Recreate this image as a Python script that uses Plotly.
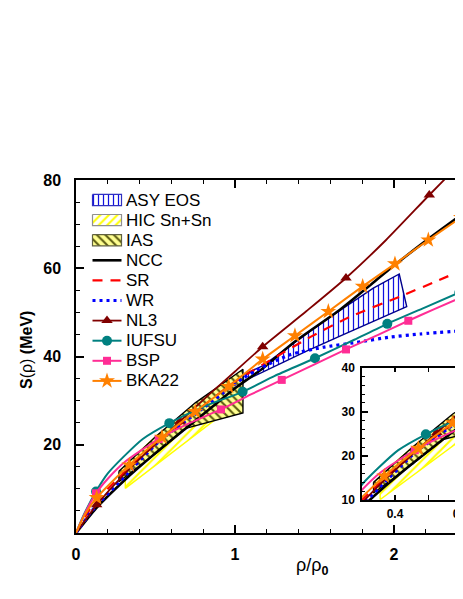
import plotly.graph_objects as go

# ---------------- data ----------------
# constraint regions (polygons, rho/rho0 vs S in MeV)
asy_x = [1.03, 1.174, 1.4, 1.587, 1.87, 2.033, 2.08, 1.87, 1.66, 1.45, 1.24, 1.1, 1.03]
asy_y = [35.5, 37.9, 43.8, 48.7, 55.5, 58.7, 51.3, 48.0, 44.6, 41.2, 37.6, 35.3, 34.0]

hic_x = [0.31, 0.31, 0.4, 0.5, 0.6, 0.7, 0.8, 0.88, 0.88, 0.7, 0.5, 0.31]
hic_y = [10.1, 14.5, 18.5, 21.8, 24.6, 26.6, 27.6, 27.4, 25.8, 20.8, 15.3, 10.1]

ias_x = [0.27, 0.5, 0.75, 1.05, 1.05, 0.69, 0.5, 0.27, 0.27]
ias_y = [14.0, 21.8, 29.5, 37.1, 27.2, 23.7, 18.0, 11.6, 14.0]

# model curves
ncc_x = [0, 0.126, 0.3, 0.5, 0.69, 0.85, 1.0, 1.174, 1.377, 1.66, 2.0, 2.2, 2.45]
ncc_y = [0, 5.6, 11.8, 18.1, 23.7, 28.4, 32.8, 37.3, 43.4, 50.6, 60.6, 66.2, 72.8]

sr_x = [0, 0.084, 0.2, 0.4, 0.6, 0.8, 1.0, 1.262, 1.478, 1.723, 2.038, 2.25, 2.45]
sr_y = [0, 5.2, 10.0, 17.0, 23.0, 28.8, 34.3, 40.0, 44.5, 49.0, 53.6, 56.8, 59.9]

wr_x = [0, 0.1, 0.3, 0.524, 0.8, 1.048, 1.157, 1.346, 1.555, 1.765, 1.975, 2.164, 2.45]
wr_y = [0, 5.0, 12.6, 20.8, 28.3, 35.0, 37.3, 40.4, 42.1, 43.2, 44.4, 45.1, 45.9]

nl3_x = [0, 0.13, 0.3, 0.5, 0.654, 0.85, 1.0, 1.174, 1.45, 1.698, 1.95, 2.222, 2.45]
nl3_y = [0, 6.4, 13.2, 20.2, 25.3, 31.8, 36.6, 42.2, 50.3, 57.8, 66.4, 76.6, 85.0]
nl3_mx = [0.13, 0.654, 1.174, 1.698, 2.222]
nl3_my = [6.4, 25.3, 42.2, 57.8, 76.6]

iufsu_x = [0, 0.05, 0.126, 0.2, 0.3, 0.42, 0.587, 0.8, 1.048, 1.25, 1.503, 1.75, 1.958, 2.2, 2.45]
iufsu_y = [0, 4.2, 9.4, 13.5, 17.3, 21.3, 24.9, 28.6, 32.0, 35.6, 39.6, 43.8, 47.4, 51.2, 55.1]
iufsu_mx = [0.126, 0.587, 1.048, 1.503, 1.958, 2.411]
iufsu_my = [9.4, 24.9, 32.0, 39.6, 47.4, 54.5]

bsp_x = [0, 0.05, 0.126, 0.2, 0.314, 0.52, 0.72, 0.912, 1.1, 1.294, 1.5, 1.698, 1.9, 2.09, 2.25, 2.45]
bsp_y = [0, 4.0, 9.0, 12.3, 16.3, 21.3, 25.0, 28.0, 31.4, 34.7, 38.2, 41.6, 44.9, 48.1, 50.7, 53.8]
bsp_mx = [0.126, 0.52, 0.912, 1.294, 1.698, 2.09]
bsp_my = [9.0, 21.3, 28.0, 34.7, 41.6, 48.1]

bka_x = [0, 0.05, 0.13, 0.335, 0.541, 0.75, 0.96, 1.174, 1.377, 1.587, 1.803, 2.006, 2.216, 2.421, 2.45]
bka_y = [0, 3.8, 8.0, 15.4, 21.7, 27.5, 33.2, 39.4, 44.7, 50.2, 55.9, 61.0, 66.4, 71.5, 72.2]
bka_mx = [0.13, 0.335, 0.541, 0.75, 0.96, 1.174, 1.377, 1.587, 1.803, 2.006, 2.216, 2.421]
bka_my = [8.0, 15.4, 21.7, 27.5, 33.2, 39.4, 44.7, 50.2, 55.9, 61.0, 66.4, 71.5]

legend_names = ["ASY EOS", "HIC Sn+Sn", "IAS", "NCC", "SR", "WR", "NL3", "IUFSU", "BSP", "BKA22"]

x_ticks = [0, 1, 2]
y_ticks = [20, 40, 60, 80]
inset_x_ticks = [0.4, 0.8]
inset_y_ticks = [10, 20, 30, 40]

# ---------------- layout geometry ----------------
FONT = "Liberation Sans, Arial, Helvetica, sans-serif"
OFF = 8                      # default page body margin
W, H = 463 - OFF, 599 - OFF
ML, MR, MT, MB = 68, 0, 172, 66
PW, PH = W - ML - MR, H - MT - MB


def px_x(px):  # screen pixel -> paper x
    return (px - OFF - ML) / PW


def px_y(py):  # screen pixel -> paper y
    return (H - MB - (py - OFF)) / PH


region_styles = {
    "ASY EOS": dict(line="#00008B", pat=dict(shape="|", fgcolor="#1010E0", bgcolor="rgba(255,255,255,0)",
                                             size=5, solidity=0.25, fillmode="replace"), leg_line="#3030C0"),
    "HIC Sn+Sn": dict(line="#FFFF00", pat=dict(shape="/", fgcolor="#FFFF00", bgcolor="rgba(255,255,255,0)",
                                               size=6, solidity=0.35, fillmode="replace"), leg_line="#909090"),
    "IAS": dict(line="#000000", pat=dict(shape="\\", fgcolor="#5A5A10", bgcolor="#FFFF90",
                                         size=6, solidity=0.35, fillmode="replace"), leg_line="#606040"),
}
curve_styles = {
    "NCC": dict(color="#000000", width=2.6, dash="solid"),
    "SR": dict(color="#FF0000", width=2.2, dash="10px,8px"),
    "WR": dict(color="#0000FF", width=3.2, dash="3px,4px"),
    "NL3": dict(color="#800000", width=1.8, dash="solid", symbol="triangle-up", size=10),
    "IUFSU": dict(color="#008080", width=2.0, dash="solid", symbol="circle", size=10),
    "BSP": dict(color="#FF2D95", width=2.0, dash="solid", symbol="square", size=8),
    "BKA22": dict(color="#FF8000", width=2.0, dash="solid", symbol="star", size=12),
}

regions = {"ASY EOS": (asy_x, asy_y), "HIC Sn+Sn": (hic_x, hic_y), "IAS": (ias_x, ias_y)}
curves = {
    "NCC": (ncc_x, ncc_y, None, None),
    "SR": (sr_x, sr_y, None, None),
    "WR": (wr_x, wr_y, None, None),
    "NL3": (nl3_x, nl3_y, nl3_mx, nl3_my),
    "IUFSU": (iufsu_x, iufsu_y, iufsu_mx, iufsu_my),
    "BSP": (bsp_x, bsp_y, bsp_mx, bsp_my),
    "BKA22": (bka_x, bka_y, bka_mx, bka_my),
}

fig = go.Figure()


def draw_all(xa, ya, with_asy=True):
    for name, (rx, ry) in regions.items():
        if name == "ASY EOS" and not with_asy:
            continue
        st = region_styles[name]
        fig.add_trace(go.Scatter(x=rx, y=ry, mode="lines", fill="toself", fillpattern=st["pat"],
                                 fillcolor="rgba(0,0,0,0)", line=dict(color=st["line"], width=1.4),
                                 xaxis=xa, yaxis=ya, showlegend=False, hoverinfo="skip"))
    for name, (cx, cy, mx, my) in curves.items():
        st = curve_styles[name]
        fig.add_trace(go.Scatter(x=cx, y=cy, mode="lines",
                                 line=dict(color=st["color"], width=st["width"], dash=st["dash"],
                                           shape="spline", smoothing=0.6),
                                 xaxis=xa, yaxis=ya, showlegend=False, hoverinfo="skip"))
        if mx is not None:
            fig.add_trace(go.Scatter(x=mx, y=my, mode="markers",
                                     marker=dict(symbol=st["symbol"], size=st["size"], color=st["color"],
                                                 line=dict(width=0)),
                                     xaxis=xa, yaxis=ya, showlegend=False, hoverinfo="skip"))


draw_all("x", "y")
draw_all("x2", "y2", with_asy=False)

# ---------------- manual legend (overlay axes in pixel units of the plot area) ----------------
row0, step = 20.0, 20.1
sx0, sx1 = 16.5, 45.5
half = 5.6
annotations = []
for i, name in enumerate(legend_names):
    yc = row0 + step * i
    if name in region_styles:
        st = region_styles[name]
        fig.add_trace(go.Scatter(x=[sx0, sx1, sx1, sx0, sx0], y=[yc - half, yc - half, yc + half, yc + half, yc - half],
                                 mode="lines", fill="toself", fillpattern=st["pat"], fillcolor="rgba(0,0,0,0)",
                                 line=dict(color=st["leg_line"], width=1.2),
                                 xaxis="x3", yaxis="y3", showlegend=False, hoverinfo="skip"))
    else:
        st = curve_styles[name]
        fig.add_trace(go.Scatter(x=[sx0, sx1], y=[yc, yc], mode="lines",
                                 line=dict(color=st["color"], width=st["width"], dash=st["dash"]),
                                 xaxis="x3", yaxis="y3", showlegend=False, hoverinfo="skip"))
        if "symbol" in st:
            fig.add_trace(go.Scatter(x=[(sx0 + sx1) / 2], y=[yc], mode="markers",
                                     marker=dict(symbol=st["symbol"], size=st["size"], color=st["color"],
                                                 line=dict(width=0)),
                                     xaxis="x3", yaxis="y3", showlegend=False, hoverinfo="skip"))
    annotations.append(dict(x=sx1 + 2, y=yc, xref="x3", yref="y3", text=name, showarrow=False,
                            xanchor="left", yanchor="middle", font=dict(family=FONT, size=17, color="black")))

# axis titles
annotations.append(dict(x=px_x(26), y=px_y(350), xref="paper", yref="paper",
                        text="<b>S</b>(ρ) <b>(MeV)</b>", textangle=-90, showarrow=False,
                        xanchor="center", yanchor="middle", font=dict(family=FONT, size=16, color="black")))
annotations.append(dict(x=px_x(312), y=px_y(566), xref="paper", yref="paper",
                        text="ρ/ρ<sub><b>0</b></sub>", showarrow=False,
                        xanchor="center", yanchor="middle", font=dict(family=FONT, size=18, color="black")))

axis_common = dict(showline=True, linecolor="black", linewidth=1.5, showgrid=False, zeroline=False,
                   ticks="inside", tickcolor="black", tickwidth=1.5, automargin=False)

fig.update_layout(
    width=W, height=H, margin=dict(l=ML, r=MR, t=MT, b=MB, pad=0, autoexpand=False),
    paper_bgcolor="white", plot_bgcolor="white", showlegend=False,
    font=dict(family=FONT, color="black"),
    annotations=annotations,
    xaxis=dict(axis_common, range=[0, PW / 159.0], domain=[0, 1], anchor="y", mirror="ticks",
               tickvals=x_ticks, ticktext=[f"<b>{v}</b>" for v in x_ticks], ticklen=8,
               tickfont=dict(size=16, family=FONT), ticklabelstandoff=6,
               minor=dict(ticks="inside", dtick=0.2, tick0=0, ticklen=4, tickwidth=1.2, tickcolor="black")),
    yaxis=dict(axis_common, range=[0, 80], domain=[0, 1], anchor="x", mirror=False,
               tickvals=y_ticks, ticktext=[f"<b>{v}</b>" for v in y_ticks], ticklen=8,
               tickfont=dict(size=16, family=FONT), ticklabelstandoff=10,
               minor=dict(ticks="inside", dtick=5, tick0=0, ticklen=4, tickwidth=1.2, tickcolor="black")),
    xaxis2=dict(axis_common, range=[0.2, 0.2 + (463 - 362) / 165.0], domain=[px_x(362), 1], anchor="y2",
                mirror="ticks", tickvals=inset_x_ticks, ticktext=[f"<b>{v}</b>" for v in inset_x_ticks],
                ticklen=5, tickfont=dict(size=12, family=FONT), ticklabelstandoff=2,
                ticklabeloverflow="allow",
                minor=dict(ticks="inside", dtick=0.2, tick0=0, ticklen=5, tickwidth=1.2, tickcolor="black")),
    yaxis2=dict(axis_common, range=[10, 40], domain=[px_y(500), px_y(367.7)], anchor="x2",
                mirror=False, tickvals=inset_y_ticks, ticktext=[f"<b>{v}</b>" for v in inset_y_ticks],
                ticklen=6, tickfont=dict(size=12, family=FONT), ticklabelstandoff=3,
                minor=dict(ticks="inside", dtick=2, tick0=0, ticklen=3, tickwidth=1.0, tickcolor="black")),
    xaxis3=dict(range=[0, PW], overlaying="x", visible=False, fixedrange=True),
    yaxis3=dict(range=[PH, 0], overlaying="y", visible=False, fixedrange=True, anchor="x3"),
)

fig.write_html("out.html")
